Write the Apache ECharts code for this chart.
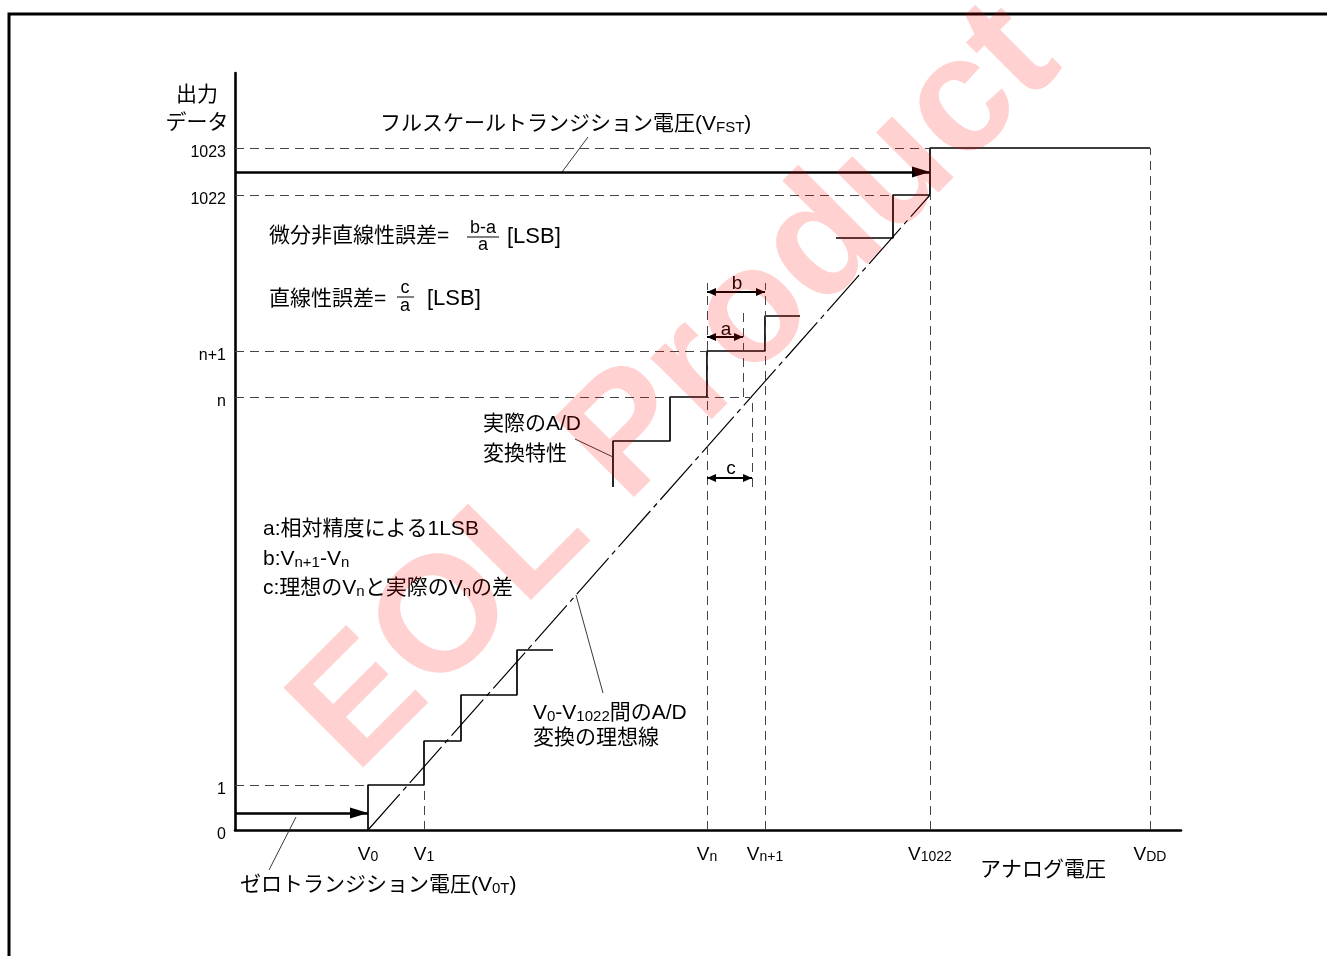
<!DOCTYPE html>
<html>
<head>
<meta charset="utf-8">
<title>A/D変換特性</title>
<script src="https://cdn.jsdelivr.net/npm/echarts@6/dist/echarts.min.js"></script>
<style>
html, body { margin: 0; padding: 0; background: #fff; }
#chart { width: 1327px; height: 956px; }
</style>
</head>
<body>
<div id="chart"></div>
<script>
// アナログ電圧の目盛り（軸原点からの位置）
const voltLabels = ['V0', 'V1', 'Vn', 'Vn+1', 'V1022', 'VDD']
const voltPos = [133, 189, 472, 530, 695, 915]
// 出力データの目盛り
const codeLabels = ['0', '1', 'n', 'n+1', '1022', '1023']
const codePos = [0, 45, 433, 479, 635, 682]

// 実際のA/D変換特性（階段）
const lowStepX = [133, 133, 189, 189, 226, 226, 282, 282, 318]
const lowStepY = [0, 45, 45, 89, 89, 135, 135, 180, 180]
const midStepX = [378, 378, 435, 435, 472, 472, 530, 530, 565]
const midStepY = [343, 389, 389, 433, 433, 479, 479, 514, 514]
const topStepX = [601, 658, 658, 695, 695, 915]
const topStepY = [592, 592, 635, 635, 682, 682]

// V0-V1022間の理想線
const idealX = [133, 695]
const idealY = [0, 635]

// 破線（水平）: 高さ / 終点
const hGuideY = [682, 635, 479, 433, 45]
const hGuideEnd = [695, 658, 472, 517, 133]
// 破線（垂直）: 位置 / 下端 / 上端
const vGuideX = [189, 472, 530, 508, 517, 695, 915]
const vGuideFrom = [0, 0, 0, 433, 343, 0, 0]
const vGuideTo = [45, 547, 547, 523, 433, 635, 682]

// 転移電圧の矢印
const arrowY = [658, 17]
const arrowEnd = [695, 133]
// 寸法 b, a, c
const dimY = [538, 493, 352]
const dimFrom = [472, 472, 472]
const dimTo = [530, 508, 517]

// 引き出し線
const leaderX = [[34, 61], [327, 353], [340, 378], [341, 368]]
const leaderY = [[-40, 13], [658, 693], [391, 373], [235, 137]]

const FONT = "'Liberation Sans', 'Noto Sans CJK JP', sans-serif"
const RICH = {
  n: { fontSize: 21, lineHeight: 24, verticalAlign: 'bottom', fontFamily: FONT, color: '#000' },
  s: { fontSize: 15, lineHeight: 20, verticalAlign: 'bottom', fontFamily: FONT, color: '#000' },
  v: { fontSize: 19, lineHeight: 22, verticalAlign: 'bottom', fontFamily: FONT, color: '#000' },
  w: { fontSize: 14, lineHeight: 18, verticalAlign: 'bottom', fontFamily: FONT, color: '#000' },
  L: { fontSize: 22, fontFamily: FONT, color: '#000' }
}

function zip(xs, ys) {
  return xs.map((x, i) => [x, ys[i]])
}

function stepSeries(name, xs, ys) {
  return {
    name: name,
    type: 'line',
    data: zip(xs, ys),
    symbol: 'none',
    silent: true,
    clip: false,
    z: 3,
    lineStyle: { color: '#000', width: 1.7 }
  }
}

function txt(x, y, text, size, align) {
  return {
    type: 'text',
    x: x,
    y: y,
    z: 10,
    silent: true,
    style: {
      text: text,
      fontSize: size || 21,
      fontFamily: FONT,
      fill: '#000',
      align: align || 'left',
      textAlign: align || 'left',
      verticalAlign: 'middle',
      textVerticalAlign: 'middle',
      rich: RICH
    }
  }
}

function bar(x1, x2, y) {
  return { type: 'line', z: 10, silent: true, shape: { x1: x1, y1: y, x2: x2, y2: y }, style: { stroke: '#000', lineWidth: 1 } }
}

const chart = echarts.init(document.getElementById('chart'))

const guideLines = []
hGuideY.forEach((y, i) => guideLines.push([{ coord: [0, y] }, { coord: [hGuideEnd[i], y] }]))
vGuideX.forEach((x, i) => guideLines.push([{ coord: [x, vGuideFrom[i]] }, { coord: [x, vGuideTo[i]] }]))

const bigArrows = arrowY.map((y, i) => [
  { coord: [0, y], symbol: 'none' },
  { coord: [arrowEnd[i], y], symbol: 'triangle', symbolSize: [11, 18], symbolOffset: [0, 9] }
])
const dimArrows = dimY.map((y, i) => [
  { coord: [dimFrom[i], y], symbol: 'triangle', symbolSize: [8, 9], symbolOffset: [0, 4.5] },
  { coord: [dimTo[i], y], symbol: 'triangle', symbolSize: [8, 9], symbolOffset: [0, 4.5] }
])

const lowS = stepSeries('lowSteps', lowStepX, lowStepY)
lowS.markLine = {
  silent: true,
  animation: false,
  symbol: ['none', 'none'],
  label: { show: false },
  emphasis: { disabled: true },
  lineStyle: { color: '#444', width: 1, type: [9, 6] },
  data: guideLines
}
const midS = stepSeries('midSteps', midStepX, midStepY)
midS.markLine = {
  silent: true,
  animation: false,
  label: { show: false },
  emphasis: { disabled: true },
  lineStyle: { color: '#000', width: 2.6, type: 'solid' },
  data: bigArrows
}
const topS = stepSeries('topSteps', topStepX, topStepY)
topS.markLine = {
  silent: true,
  animation: false,
  label: { show: false },
  emphasis: { disabled: true },
  lineStyle: { color: '#000', width: 1.8, type: 'solid' },
  data: dimArrows
}

const leaders = leaderX.map((xs, i) => ({
  name: 'leader' + i,
  type: 'line',
  data: zip(xs, leaderY[i]),
  symbol: 'none',
  silent: true,
  clip: false,
  z: 3,
  lineStyle: { color: '#222', width: 0.9 }
}))

chart.setOption({
  animation: false,
  backgroundColor: '#fff',
  grid: { left: 235, top: 73, right: 146, bottom: 126, outerBoundsMode: 'none', containLabel: false },
  xAxis: {
    type: 'value',
    min: 0,
    max: 946,
    axisLine: { show: true, onZero: false, lineStyle: { color: '#000', width: 2.6 } },
    axisTick: { show: false },
    splitLine: { show: false },
    axisLabel: {
      customValues: voltPos,
      margin: 12,
      formatter: function(v) {
        const s = voltLabels[voltPos.indexOf(v)] || ''
        return '{v|V}{w|' + s.slice(1) + '}'
      },
      rich: RICH
    }
  },
  yAxis: {
    type: 'value',
    min: 0,
    max: 757,
    axisLine: { show: true, onZero: false, lineStyle: { color: '#000', width: 2.6 } },
    axisTick: { show: false },
    splitLine: { show: false },
    axisLabel: {
      customValues: codePos,
      margin: 9,
      verticalAlign: 'top',
      lineHeight: 9,
      fontSize: 16,
      fontFamily: FONT,
      color: '#000',
      formatter: function(v) {
        return codeLabels[codePos.indexOf(v)] || ''
      }
    }
  },
  graphic: [
    { type: 'polyline', z: 10, silent: true, shape: { points: [[9, 956], [9, 14], [1327, 14]] }, style: { stroke: '#000', lineWidth: 3, fill: 'none' } },
    txt(197, 95, '出力', 21, 'center'),
    txt(197, 123, 'データ', 21, 'center'),
    txt(380, 123, '{n|フルスケールトランジション電圧(V}{s|FST}{n|)}'),
    txt(269, 236, '微分非直線性誤差='),
    txt(483, 228, 'b-a', 18, 'center'),
    bar(467, 499, 237),
    txt(483, 245, 'a', 18, 'center'),
    txt(507, 237, '{L|[LSB]}'),
    txt(269, 299, '直線性誤差='),
    txt(405, 288, 'c', 18, 'center'),
    bar(397, 414, 297),
    txt(405, 306, 'a', 18, 'center'),
    txt(427, 299, '{L|[LSB]}'),
    txt(737, 284, 'b', 19, 'center'),
    txt(726, 330, 'a', 19, 'center'),
    txt(731, 469, 'c', 19, 'center'),
    txt(483, 424, '実際のA/D'),
    txt(483, 454, '変換特性'),
    txt(263, 529, 'a:相対精度による1LSB'),
    txt(263, 558, '{n|b:V}{s|n+1}{n|-V}{s|n}'),
    txt(263, 587, '{n|c:理想のV}{s|n}{n|と実際のV}{s|n}{n|の差}'),
    txt(533, 712, '{n|V}{s|0}{n|-V}{s|1022}{n|間のA/D}'),
    txt(533, 738, '変換の理想線'),
    txt(240, 884, '{n|ゼロトランジション電圧(V}{s|0T}{n|)}'),
    txt(980, 870, 'アナログ電圧'),
    {
      type: 'text',
      x: 678,
      y: 389,
      rotation: Math.PI / 4,
      z: 100,
      silent: true,
      style: {
        text: 'EOL Product',
        fontSize: 164,
        fontWeight: 'bold',
        fontFamily: "'Liberation Sans', sans-serif",
        fill: 'rgba(255, 0, 0, 0.18)',
        align: 'center',
        textAlign: 'center',
        verticalAlign: 'middle',
        textVerticalAlign: 'middle'
      }
    }
  ],
  series: [
    lowS,
    midS,
    topS,
    {
      name: 'ideal',
      type: 'line',
      data: zip(idealX, idealY),
      symbol: 'none',
      silent: true,
      z: 3,
      lineStyle: { color: '#000', width: 1.2, type: [48, 5, 5, 5] }
    }
  ].concat(leaders)
})
window.addEventListener('resize', () => chart.resize())
</script>
</body>
</html>
